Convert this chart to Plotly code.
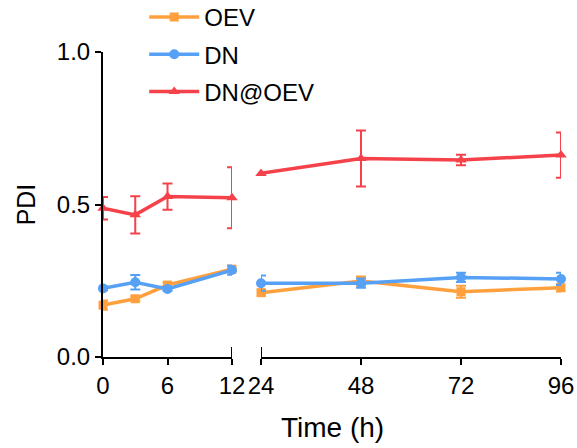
import plotly.graph_objects as go

# ---- data ----
t_early = [0, 3, 6, 12]
t_late = [24, 48, 72, 96]

oev_early = [0.170, 0.191, 0.236, 0.288]
oev_early_err = [0.015, 0.008, 0.008, 0.010]
oev_late = [0.211, 0.249, 0.214, 0.227]
oev_late_err = [0.010, 0.015, 0.020, 0.012]

dn_early = [0.225, 0.245, 0.223, 0.285]
dn_early_err = [0.006, 0.024, 0.006, 0.015]
dn_late = [0.242, 0.242, 0.261, 0.256]
dn_late_err = [0.025, 0.015, 0.015, 0.020]

dnoev_early = [0.488, 0.466, 0.526, 0.522]
dnoev_early_err = [0.037, 0.061, 0.043, 0.100]
dnoev_late = [0.602, 0.651, 0.646, 0.662]
dnoev_late_err = [0.0, 0.092, 0.017, 0.074]

series = [
    ("OEV", oev_early, oev_early_err, oev_late, oev_late_err, "#FFA03F", "square", 9),
    ("DN", dn_early, dn_early_err, dn_late, dn_late_err, "#56A0F6", "circle", 10),
    ("DN@OEV", dnoev_early, dnoev_early_err, dnoev_late, dnoev_late_err, "#F5424A", "triangle-up", 10),
]

x_ticks_early = [0, 6, 12]
x_ticks_late = [24, 48, 72, 96]
y_ticks = [0.0, 0.5, 1.0]

FONT = "Arial, Liberation Sans, Helvetica, sans-serif"

fig = go.Figure()
for name, ye, ee, yl, el, col, sym, ms in series:
    common = dict(mode="lines+markers", line=dict(color=col, width=3.5),
                  marker=dict(symbol=sym, size=ms, color=col),
                  cliponaxis=False, legendgroup=name, name=name)
    fig.add_trace(go.Scatter(x=t_early, y=ye, xaxis="x", yaxis="y",
                             error_y=dict(type="data", array=ee, color=col, thickness=2, width=5),
                             showlegend=True, **common))
    fig.add_trace(go.Scatter(x=t_late, y=yl, xaxis="x2", yaxis="y",
                             error_y=dict(type="data", array=el, color=col, thickness=2, width=5),
                             showlegend=False, **common))

axis_common = dict(showgrid=False, zeroline=False, showline=True, linecolor="black",
                   linewidth=2, ticks="outside", ticklen=6, tickwidth=2, tickcolor="black",
                   tickfont=dict(size=24, color="black", family=FONT))

fig.update_layout(
    width=577, height=448,
    margin=dict(l=103, r=16, t=52, b=91, autoexpand=False),
    plot_bgcolor="white", paper_bgcolor="white",
    font=dict(family=FONT, color="black"),
    xaxis=dict(domain=[0, 0.2817], range=[0, 12], tickvals=x_ticks_early, anchor="y", **axis_common),
    xaxis2=dict(domain=[0.345, 1], range=[24, 96], tickvals=x_ticks_late, anchor="y", **axis_common),
    yaxis=dict(range=[0, 1], tickvals=y_ticks, tickformat=".1f", anchor="x",
               title=dict(text="PDI", font=dict(size=25, family=FONT), standoff=14), **axis_common),
    legend=dict(x=0.09, y=1.187, xanchor="left", yanchor="top", font=dict(size=24, family=FONT),
                tracegroupgap=3, itemwidth=50, bgcolor="rgba(0,0,0,0)"),
    annotations=[dict(text="Time (h)", xref="paper", yref="paper", x=0.5, y=-0.23,
                      xanchor="center", yanchor="middle", showarrow=False,
                      font=dict(size=28, family=FONT, color="black"))],
    shapes=[
        dict(type="line", xref="x", yref="y", x0=12, x1=12, ysizemode="pixel", yanchor=0,
             y0=-9, y1=10, line=dict(color="black", width=2)),
        dict(type="line", xref="x2", yref="y", x0=24, x1=24, ysizemode="pixel", yanchor=0,
             y0=-9, y1=10, line=dict(color="black", width=2)),
    ],
)

fig.write_html("out.html")
